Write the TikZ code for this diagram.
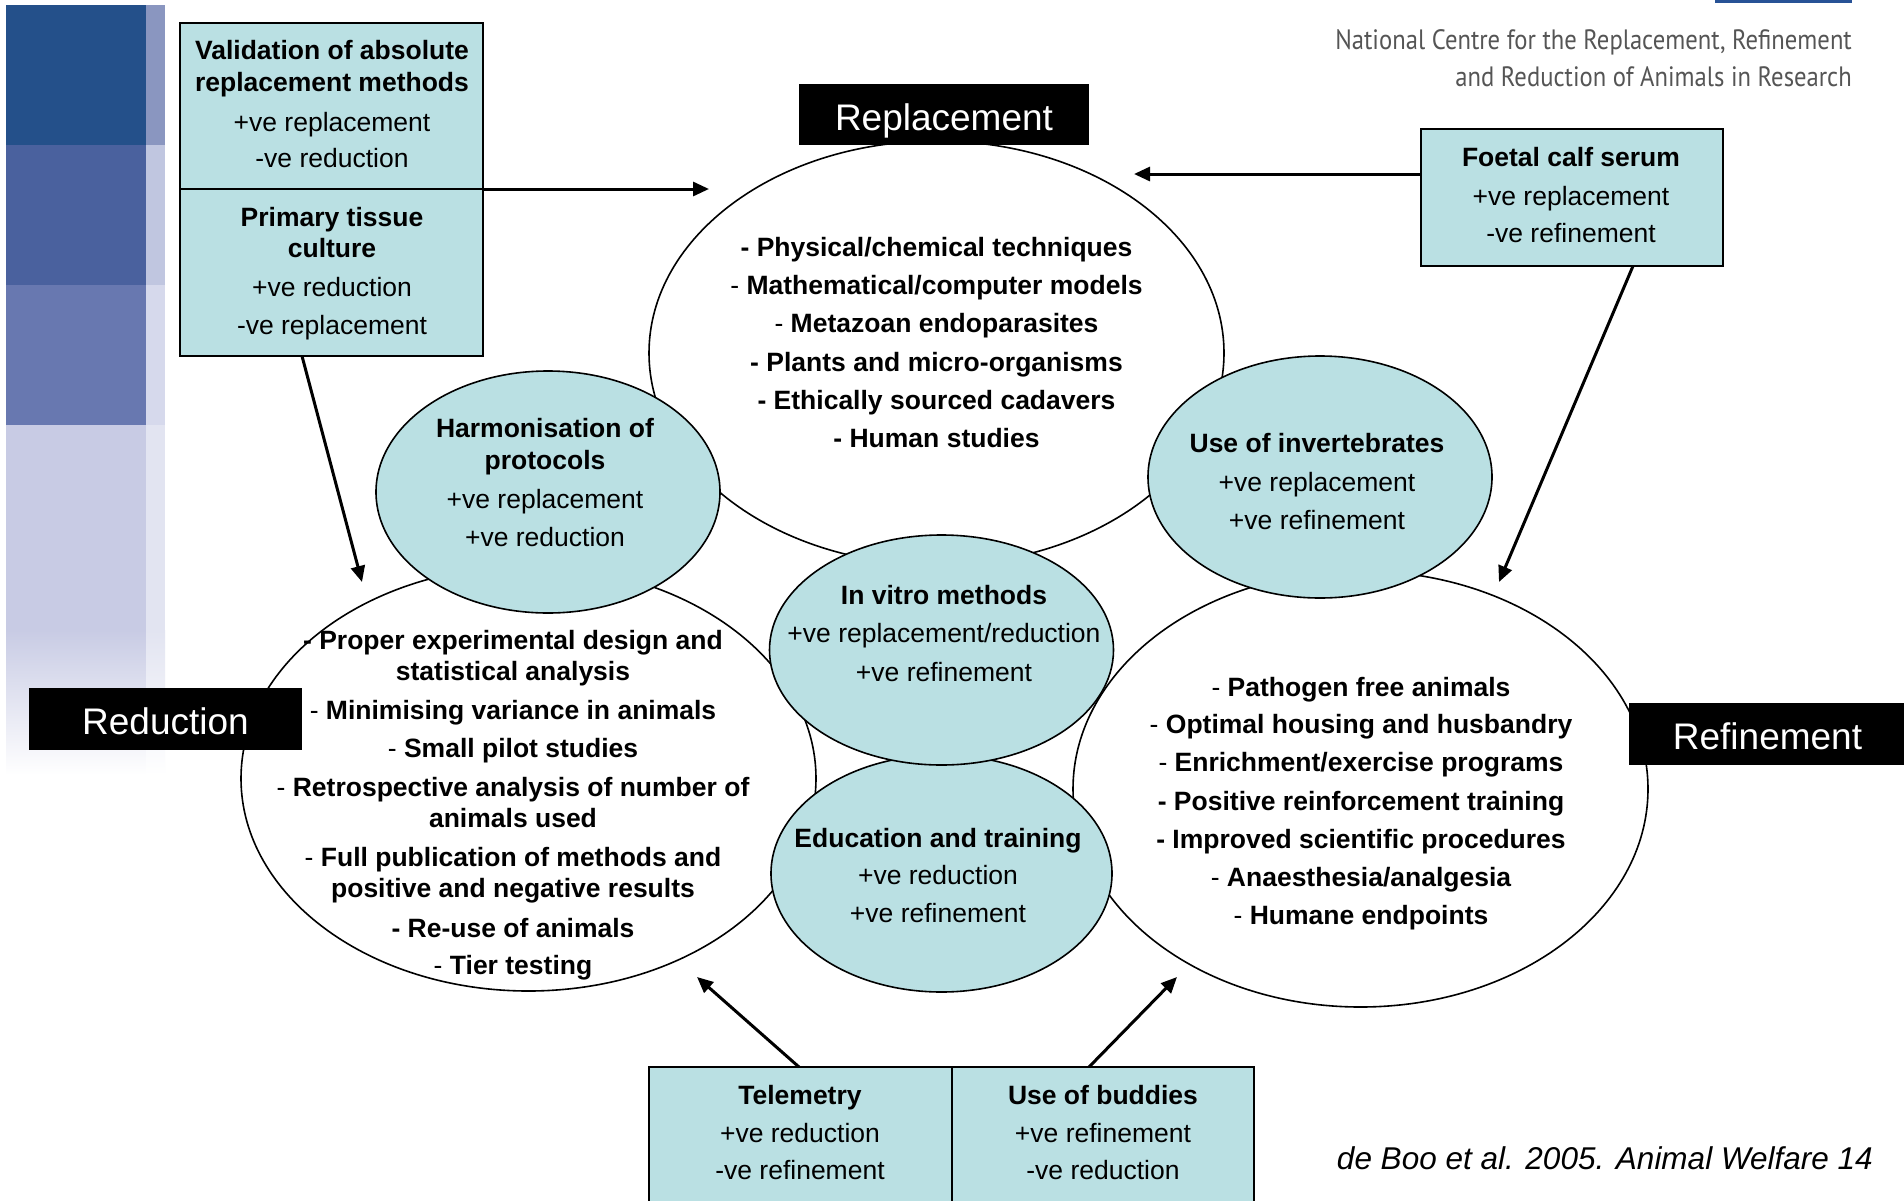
\documentclass[tikz,border=0pt]{standalone}
\usepackage{fontspec}
\setmainfont{Liberation Sans}
\newfontfamily\ncfont{PT Sans}
\usetikzlibrary{arrows.meta,shapes.geometric}
\definecolor{cy}{RGB}{186,224,227}
\definecolor{bA}{RGB}{36,80,138}
\definecolor{bB}{RGB}{74,97,158}
\definecolor{bC}{RGB}{104,120,176}
\definecolor{bD}{RGB}{200,203,228}
\definecolor{sA}{RGB}{138,150,192}
\definecolor{sB}{RGB}{192,198,224}
\definecolor{sC}{RGB}{214,217,236}
\definecolor{sD}{RGB}{226,228,241}
\definecolor{ncgray}{RGB}{85,85,85}
\definecolor{logoblue}{RGB}{40,82,150}
\newcommand{\rd}{{\mdseries -}}
\begin{document}
\begin{tikzpicture}[x=1pt,y=-1pt,
  big/.style={ellipse, draw, fill=white, line width=1.6pt, inner sep=0pt, outer sep=0pt},
  small/.style={ellipse, draw, fill=cy, line width=1.6pt, inner sep=0pt, outer sep=0pt},
  boxn/.style={draw, fill=cy, line width=2pt, inner sep=0pt, outer sep=0pt},
  lab/.style={fill=black, text=white, font=\fontsize{37}{44}\selectfont, text height=31pt, text depth=0pt, inner sep=0pt, outer sep=0pt},
  txt/.style={font=\fontsize{26.5}{32}\selectfont, text height=22pt, text depth=3pt, inner sep=0pt, anchor=center},
  bt/.style={txt, font=\fontsize{26.5}{32}\selectfont\bfseries},
  nct/.style={text=ncgray, font=\ncfont\fontsize{28}{34}\selectfont, text height=22pt, text depth=3pt, inner sep=0pt, anchor=east},
  arr/.style={line width=3pt, -{Triangle[length=16pt,width=14pt]}}]
\useasboundingbox (0,0) rectangle (1904,1200);
\clip (0,0) rectangle (1904,1200);
\fill[white] (0,0) rectangle (1904,1200);
% left decorative band
\fill[bA] (6,5) rectangle (146,145);
\fill[bB] (6,145) rectangle (146,285);
\fill[bC] (6,285) rectangle (146,425);
\fill[bD] (6,425) rectangle (146,630);
\shade[top color=bD, bottom color=white] (6,630) rectangle (146,775);
\fill[sA] (146,5) rectangle (165,145);
\fill[sB] (146,145) rectangle (165,285);
\fill[sC] (146,285) rectangle (165,425);
\fill[sD] (146,425) rectangle (165,630);
\shade[top color=sD, bottom color=white] (146,630) rectangle (165,775);
% logo fragment and header
\fill[logoblue] (1715,0) rectangle (1852,3);
\node[nct] (nc1) at (1852,40) {\scalebox{0.88}[1]{National Centre for the Replacement, Refinement}};
\node[nct] (nc2) at (1852,76.5) {\scalebox{0.88}[1]{and Reduction of Animals in Research}};
% big ellipses
\node[big, minimum width=575pt, minimum height=424pt] (rep) at (936.5,353) {};
\node[big, minimum width=575pt, minimum height=425pt] (red) at (528.5,778.5) {};
\node[big, minimum width=575pt, minimum height=436pt] (ref) at (1360.5,789) {};
% small ellipses
\node[small, minimum width=344pt, minimum height=242pt] (harm) at (548,492) {};
\node[small, minimum width=344pt, minimum height=242pt] (inv) at (1320,477) {};
\node[small, minimum width=341pt, minimum height=237pt] (edu) at (941.5,873.5) {};
\node[small, minimum width=344pt, minimum height=230pt] (vit) at (941.5,650) {};
% replacement text
\node[bt] (rp1) at (936.5,246.7) {- Physical/chemical techniques};
\node[bt] (rp2) at (936.5,285) {\rd{} Mathematical/computer models};
\node[bt] (rp3) at (936.5,323) {\rd{} Metazoan endoparasites};
\node[bt] (rp4) at (936.5,361.7) {- Plants and micro-organisms};
\node[bt] (rp5) at (936.5,400) {- Ethically sourced cadavers};
\node[bt] (rp6) at (936.5,438) {- Human studies};
% reduction text
\node[bt] (rd1) at (513,640) {- Proper experimental design and};
\node[bt] (rd2) at (513,671) {statistical analysis};
\node[bt] (rd3) at (513,710) {\rd{} Minimising variance in animals};
\node[bt] (rd4) at (513,748) {\rd{} Small pilot studies};
\node[bt] (rd5) at (513,786.7) {\rd{} Retrospective analysis of number of};
\node[bt] (rd6) at (513,818) {animals used};
\node[bt] (rd7) at (513,856.7) {\rd{} Full publication of methods and};
\node[bt] (rd8) at (513,888) {positive and negative results};
\node[bt] (rd9) at (513,928) {- Re-use of animals};
\node[bt] (rd10) at (513,965) {\rd{} Tier testing};
% refinement text
\node[bt] (rf1) at (1361,686.7) {\rd{} Pathogen free animals};
\node[bt] (rf2) at (1361,724) {\rd{} Optimal housing and husbandry};
\node[bt] (rf3) at (1361,762) {\rd{} Enrichment/exercise programs};
\node[bt] (rf4) at (1361,800.7) {- Positive reinforcement training};
\node[bt] (rf5) at (1361,839) {- Improved scientific procedures};
\node[bt] (rf6) at (1361,876.7) {\rd{} Anaesthesia/analgesia};
\node[bt] (rf7) at (1361,915) {\rd{} Humane endpoints};
% small ellipse texts
\node[bt] (h1) at (545,427.5) {Harmonisation of};
\node[bt] (h2) at (545,460) {protocols};
\node[txt] (h3) at (545,499) {+ve replacement};
\node[txt] (h4) at (545,537) {+ve reduction};
\node[bt] (i1) at (1317,443) {Use of invertebrates};
\node[txt] (i2) at (1317,482) {+ve replacement};
\node[txt] (i3) at (1317,520) {+ve refinement};
\node[bt] (v1) at (944,595) {In vitro methods};
\node[txt] (v2) at (944,633) {+ve replacement/reduction};
\node[txt] (v3) at (944,672) {+ve refinement};
\node[bt] (e1) at (938,838) {Education and training};
\node[txt] (e2) at (938,875) {+ve reduction};
\node[txt] (e3) at (938,913) {+ve refinement};
% boxes
\node[boxn, minimum width=303pt, minimum height=166pt] (valbox) at (331.5,106) {};
\node[boxn, minimum width=303pt, minimum height=167pt] (ptcbox) at (331.5,272.5) {};
\node[boxn, minimum width=302pt, minimum height=137pt] (foetal) at (1572,197.5) {};
\node[boxn, minimum width=303pt, minimum height=148pt] (tel) at (800.5,1141) {};
\node[boxn, minimum width=302pt, minimum height=148pt] (bud) at (1103,1141) {};
\node[bt] (va1) at (332,50) {Validation of absolute};
\node[bt] (va2) at (332,81.7) {replacement methods};
\node[txt] (va3) at (332,121.7) {+ve replacement};
\node[txt] (va4) at (332,158.3) {-ve reduction};
\node[bt] (pt1) at (332,216.7) {Primary tissue};
\node[bt] (pt2) at (332,248.3) {culture};
\node[txt] (pt3) at (332,286.7) {+ve reduction};
\node[txt] (pt4) at (332,325) {-ve replacement};
\node[bt] (fc1) at (1571,156.7) {Foetal calf serum};
\node[txt] (fc2) at (1571,196) {+ve replacement};
\node[txt] (fc3) at (1571,233) {-ve refinement};
\node[bt] (tl1) at (800,1095) {Telemetry};
\node[txt] (tl2) at (800,1133) {+ve reduction};
\node[txt] (tl3) at (800,1170) {-ve refinement};
\node[bt] (bd1) at (1103,1095) {Use of buddies};
\node[txt] (bd2) at (1103,1133) {+ve refinement};
\node[txt] (bd3) at (1103,1170) {-ve reduction};
% category labels
\node[lab, minimum width=290pt, minimum height=61pt] (replab) at (944,114.5) {Replacement};
\node[lab, minimum width=273pt, minimum height=62pt] (redlab) at (165.5,719) {Reduction};
\node[lab, minimum width=278pt, minimum height=62pt] (reflab) at (1767.5,734) {Refinement};
% citation
\node[font=\fontsize{31.5}{38}\selectfont\itshape, text height=26pt, text depth=5pt, inner sep=0pt, anchor=east] (cite) at (1873,1159) {de Boo et al. 2005. Animal Welfare 14};
% arrows
\coordinate (t1) at (709,189);
\coordinate (t2) at (1134,174);
\coordinate (t3) at (362,582);
\coordinate (t4) at (1499,582);
\coordinate (t5) at (697,977);
\coordinate (t6) at (1177,977);
\draw[arr] (valbox.south east) -- (t1);
\draw[arr] (foetal.west |- t2) -- (t2);
\draw[arr] ([xshift=-29.5pt]ptcbox.south) -- (t3);
\draw[arr] ([xshift=61pt]foetal.south) -- (t4);
\draw[arr] ([xshift=-1.5pt]tel.north) -- (t5);
\draw[arr] ([xshift=-14pt]bud.north) -- (t6);
\end{tikzpicture}
\end{document}
